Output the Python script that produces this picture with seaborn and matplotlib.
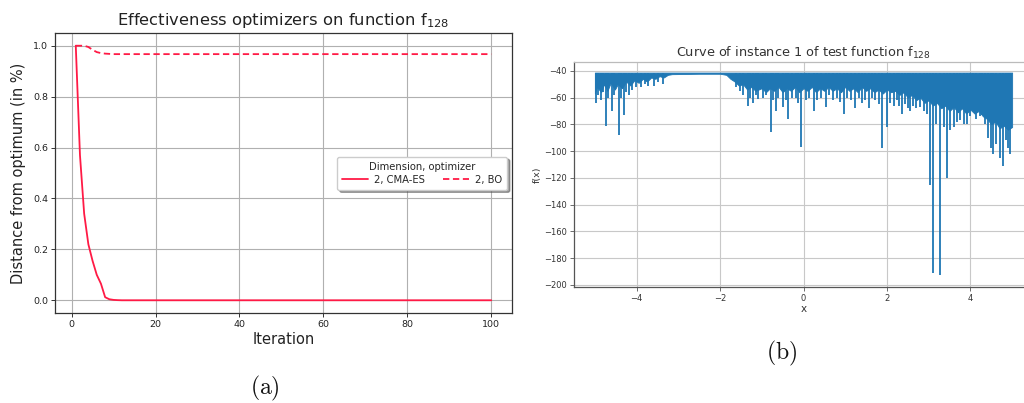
import numpy as np
import pandas as pd
import matplotlib
matplotlib.use("Agg")
import matplotlib.pyplot as plt
import seaborn as sns

# ---------------- data: panel (a) ----------------
iterations = list(range(1, 101))
cma_es = [1.0, 0.57, 0.34, 0.22, 0.155, 0.10, 0.065, 0.012, 0.004, 0.0015, 0.0005] + [0.0] * 89
bo = [1.0, 1.0, 1.0, 0.995, 0.984, 0.975, 0.971, 0.969, 0.968] + [0.967] * 91
series_labels = ["2, CMA-ES", "2, BO"]

# ---------------- data: panel (b) ----------------
band_x = [-5.00, -4.95, -4.85, -4.78, -4.70, -4.62, -4.52, -4.45, -4.35, -4.25, -4.15, -4.05,
          -3.95, -3.85, -3.75, -3.65, -3.55, -3.45, -3.35, -3.25, -3.15, -2.50, -2.00, -1.85,
          -1.75, -1.65, -1.55, -1.45, -1.35, -1.25, -1.15, -1.00, -0.90, -0.80, -0.70, -0.60,
          -0.50, -0.40, -0.30, -0.20, -0.10, 0.00, 0.10, 0.20, 0.30, 0.40, 0.50, 0.60, 0.70,
          0.80, 0.90, 1.00, 1.10, 1.20, 1.30, 1.40, 1.50, 1.60, 1.70, 1.80, 1.90, 2.00, 2.10,
          2.20, 2.30, 2.40, 2.50, 2.60, 2.70, 2.80, 2.90, 3.00, 3.10, 3.20, 3.30, 3.40, 3.50,
          3.60, 3.70, 3.80, 3.90, 4.00, 4.10, 4.20, 4.30, 4.40, 4.50, 4.60, 4.70, 4.80, 4.90, 5.00]
band_floor = [-57, -52, -56, -50, -55, -49, -54, -50, -53, -48, -51, -47,
              -49, -46, -48, -45, -46, -44, -45, -43, -42.5, -42.2, -42.2, -43,
              -46, -48, -51, -50, -54, -52, -55, -53, -56, -53, -55, -52,
              -56, -53, -55, -52, -56, -53, -55, -52, -56, -53, -55, -52, -55,
              -53, -56, -52, -55, -53, -56, -52, -55, -53, -56, -54, -57, -54, -56,
              -55, -58, -56, -60, -58, -62, -60, -64, -62, -66, -64, -68, -66, -70,
              -67, -71, -68, -72, -69, -72, -70, -74, -76, -80, -78, -83, -81, -84, -82]
band_top = -41.3

spike_x = [-4.98, -4.93, -4.86, -4.80, -4.74, -4.68, -4.59, -4.53, -4.43, -4.37, -4.31, -4.25,
           -4.19, -4.10, -4.02, -3.90, -3.80, -3.73, -3.59, -3.48, -3.37,
           -1.62, -1.52, -1.45, -1.34, -1.28, -1.22, -1.15, -1.08, -0.98, -0.90, -0.77, -0.72,
           -0.67, -0.60, -0.50, -0.43, -0.36, -0.28, -0.19, -0.12, -0.05, 0.05, 0.12, 0.24,
           0.32, 0.42, 0.53, 0.62, 0.70, 0.80, 0.88, 0.96, 1.05, 1.14, 1.24, 1.32, 1.40, 1.48,
           1.56, 1.64, 1.72, 1.80, 1.89, 2.01, 2.08, 2.16, 2.24, 2.30, 2.37, 2.44, 2.50, 2.56,
           2.63, 2.70, 2.80, 2.88, 2.95, 3.02, 3.11, 3.18, 3.28, 3.36, 3.44, 3.52, 3.60, 3.68,
           3.76, 3.84, 3.92, 4.00, 4.07, 4.14, 4.22, 4.28, 4.36, 4.42, 4.50, 4.55, 4.62, 4.71,
           4.79, 4.85, 4.90, 4.95]
spike_y = [-64, -58, -62, -56, -81, -60, -70, -58, -88, -60, -73, -56,
           -58, -54, -52, -52, -50, -51, -51, -48, -50,
           -52, -55, -58, -66, -60, -64, -58, -61, -60, -58, -86, -62,
           -70, -60, -67, -62, -76, -60, -60, -64, -97, -62, -60, -70,
           -62, -60, -67, -58, -62, -60, -63, -72, -60, -62, -68, -60, -64, -62,
           -68, -60, -62, -65, -98, -82, -64, -66, -62, -66, -72, -65, -68, -70,
           -66, -68, -67, -70, -72, -125, -191, -80, -193, -82, -120, -84, -82, -78,
           -77, -80, -80, -74, -70, -76, -74, -73, -80, -90, -98, -102, -95, -105,
           -111, -92, -98, -102]

x_ticks_b = [-4, -2, 0, 2, 4]
y_ticks_b = [-200, -180, -160, -140, -120, -100, -80, -60, -40]

RED = "#ff1a45"
BLUE = "#1f77b4"

# ---------------- figure ----------------
sns.set_theme(style="whitegrid")
plt.rcParams["font.family"] = ["DejaVu Sans"]

fig = plt.figure(figsize=(10.24, 4.03), dpi=100)

# ----- panel (a)
ax1 = fig.add_axes([55 / 1024, 1 - 313 / 403, 457 / 1024, 280 / 403])
df = pd.DataFrame({
    "Iteration": iterations * 2,
    "Distance": cma_es + bo,
    "Dimension, optimizer": [series_labels[0]] * len(iterations) + [series_labels[1]] * len(iterations),
})
sns.lineplot(data=df, x="Iteration", y="Distance", hue="Dimension, optimizer",
             style="Dimension, optimizer", palette=[RED, RED],
             dashes={series_labels[0]: "", series_labels[1]: (3.5, 2)},
             linewidth=1.3, ax=ax1)
ax1.set_facecolor("white")
ax1.grid(True, color="#b0b0b0", linewidth=0.8)
for s in ax1.spines.values():
    s.set_color("#333333")
    s.set_linewidth(0.9)
ax1.tick_params(axis="both", labelsize=6.8, length=3, width=0.7, color="#333333",
                labelcolor="#222222", pad=2, bottom=True, left=True)
ax1.set_xticks([0, 20, 40, 60, 80, 100])
ax1.set_yticks([0.0, 0.2, 0.4, 0.6, 0.8, 1.0])
ax1.set_xlim(-3.95, 104.95)
ax1.set_ylim(-0.05, 1.05)
ax1.set_xlabel("Iteration", fontsize=10.5, color="#222222", labelpad=2)
ax1.set_ylabel("Distance from optimum (in %)", fontsize=10.5, color="#222222", labelpad=5)
ax1.set_title("Effectiveness optimizers on function f$_{128}$", fontsize=11.8,
              color="#222222", pad=6)
leg = ax1.legend(title="Dimension, optimizer", ncol=2, loc="center right",
                 fontsize=7.2, title_fontsize=7.2, shadow=True, fancybox=True,
                 frameon=True, handlelength=2.6, columnspacing=1.8,
                 borderpad=0.5, labelspacing=0.3, handletextpad=0.6)
leg.get_frame().set_edgecolor("#cccccc")
leg.get_frame().set_facecolor("white")

# ----- panel (b)
ax2 = fig.add_axes([574 / 1024, 1 - 287 / 403, 459 / 1024, 225 / 403])
ax2.set_facecolor("white")
ax2.fill_between(band_x, band_top, band_floor, color=BLUE, linewidth=0.6)
ax2.vlines(spike_x, band_top, spike_y, color=BLUE, linewidth=1.3)
ax2.set_xlim(-5.5, 5.5)
ax2.set_ylim(-201.6, -33.4)
ax2.set_xticks(x_ticks_b)
ax2.set_yticks(y_ticks_b)
ax2.grid(True, color="#c8c8c8", linewidth=0.8)
for s in ax2.spines.values():
    s.set_color("#555555")
    s.set_linewidth(0.9)
ax2.spines["top"].set_color("#bbbbbb")
ax2.tick_params(axis="both", labelsize=6, length=3, width=0.6, color="#555555",
                labelcolor="#333333", pad=2, bottom=True, left=True)
ax2.set_xlabel("x", fontsize=7.5, color="#333333", labelpad=1)
ax2.set_ylabel("f(x)", fontsize=6.8, color="#333333", labelpad=2)
ax2.set_title("Curve of instance 1 of test function f$_{128}$", fontsize=9.3,
              color="#333333", pad=4)

# ----- sub-captions
fig.text(265 / 1024, 1 - 388 / 403, r"$\mathrm{(a)}$", ha="center", va="center",
         fontsize=17, math_fontfamily="cm", color="#111111")
fig.text(782 / 1024, 1 - 353 / 403, r"$\mathrm{(b)}$", ha="center", va="center",
         fontsize=17, math_fontfamily="cm", color="#111111")

fig.savefig("out.png", dpi=100, facecolor="white")
